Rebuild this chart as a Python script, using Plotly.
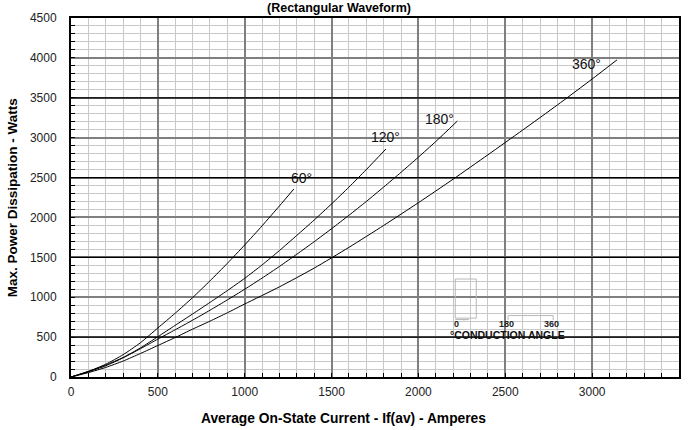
import plotly.graph_objects as go

# ---- data ----
i_60 = [0, 100, 200, 300, 400, 500, 600, 700, 800, 900, 1000, 1100, 1200, 1283]
p_60 = [0, 70, 160, 280, 430, 615, 800, 995, 1205, 1425, 1655, 1895, 2145, 2357]

i_120 = [0, 100, 200, 300, 400, 500, 600, 700, 800, 900, 1000, 1100, 1200, 1300, 1400, 1500, 1600, 1700, 1813]
p_120 = [0, 70, 150, 245, 365, 505, 648, 790, 935, 1083, 1237, 1405, 1585, 1775, 1968, 2170, 2380, 2600, 2858]

i_180 = [0, 100, 200, 300, 400, 500, 600, 700, 800, 900, 1000, 1100, 1200, 1300, 1400, 1500, 1600, 1700, 1800, 1900, 2000, 2100, 2224]
p_180 = [0, 65, 140, 240, 355, 475, 592, 712, 837, 966, 1100, 1240, 1386, 1539, 1696, 1859, 2027, 2200, 2381, 2566, 2756, 2952, 3208]

i_360 = [0, 100, 200, 300, 400, 500, 600, 700, 800, 900, 1000, 1200, 1400, 1600, 1800, 2000, 2200, 2400, 2600, 2800, 3000, 3143]
p_360 = [0, 55, 120, 200, 295, 395, 495, 600, 700, 805, 915, 1130, 1365, 1625, 1900, 2185, 2480, 2785, 3095, 3410, 3735, 3975]

curve_labels = ["60°", "120°", "180°", "360°"]
label_x = [1325, 1813, 2120, 2970]
label_y = [2500, 3010, 3235, 3925]

x_ticks = [0, 500, 1000, 1500, 2000, 2500, 3000, 3500]
y_ticks = [0, 500, 1000, 1500, 2000, 2500, 3000, 3500, 4000, 4500]
black_grid_y = [500, 1500, 2500, 3500]

FONT = "Liberation Sans, Arial, sans-serif"

fig = go.Figure()
for xs, ys in [(i_60, p_60), (i_120, p_120), (i_180, p_180), (i_360, p_360)]:
    fig.add_trace(go.Scatter(x=xs, y=ys, mode="lines",
                             line=dict(color="black", width=1, shape="spline", smoothing=0.6),
                             showlegend=False, hoverinfo="skip"))

for t, x, y in zip(curve_labels, label_x, label_y):
    fig.add_annotation(x=x, y=y, text=t, showarrow=False,
                       font=dict(family=FONT, size=14, color="#111"),
                       xanchor="center", yanchor="middle")

shapes = []
for yv in black_grid_y:
    shapes.append(dict(type="line", xref="x", yref="y", x0=0, x1=3500, y0=yv, y1=yv,
                       line=dict(color="black", width=1.2), layer="between"))

# conduction angle inset (light gray sketch)
g = "#b8b8b8"
shapes += [
    dict(type="rect", xref="x", yref="y", x0=2212, x1=2333, y0=738, y1=1228,
         line=dict(color=g, width=1), layer="above"),
    dict(type="line", xref="x", yref="y", x0=2212, x1=2290, y0=720, y1=720,
         line=dict(color=g, width=1), layer="above"),
    dict(type="line", xref="x", yref="y", x0=2262, x1=2262, y0=705, y1=720,
         line=dict(color=g, width=1), layer="above"),
    dict(type="line", xref="x", yref="y", x0=2516, x1=2776, y0=770, y1=770,
         line=dict(color=g, width=1), layer="above"),
    dict(type="line", xref="x", yref="y", x0=2516, x1=2516, y0=715, y1=770,
         line=dict(color=g, width=1), layer="above"),
    dict(type="line", xref="x", yref="y", x0=2776, x1=2776, y0=715, y1=770,
         line=dict(color=g, width=1), layer="above"),
]
fig.update_layout(shapes=shapes)

for t, x in zip(["0", "180", "360"], [2222, 2505, 2768]):
    fig.add_annotation(x=x, y=665, text=f"<b>{t}</b>", showarrow=False,
                       font=dict(family=FONT, size=9, color="#222"),
                       xanchor="center", yanchor="middle")
fig.add_annotation(x=2512, y=530, text="<b>°CONDUCTION ANGLE</b>", showarrow=False,
                   font=dict(family=FONT, size=10.5, color="#111"),
                   xanchor="center", yanchor="middle")

# titles
fig.add_annotation(xref="paper", yref="paper", x=0.44, y=1.028, text="<b>(Rectangular Waveform)</b>",
                   showarrow=False, font=dict(family=FONT, size=12.5, color="black"),
                   xanchor="center", yanchor="middle")
fig.add_annotation(xref="paper", yref="paper", x=0.4475, y=-0.115,
                   text="<b>Average On-State Current - If(av) - Amperes</b>",
                   showarrow=False, font=dict(family=FONT, size=13.8, color="black"),
                   xanchor="center", yanchor="middle")
fig.add_annotation(xref="paper", yref="paper", x=-0.0967, y=0.4986,
                   text="<b>Max. Power Dissipation - Watts</b>", textangle=-90,
                   showarrow=False, font=dict(family=FONT, size=13.5, color="black"),
                   xanchor="center", yanchor="middle")

fig.update_xaxes(range=[0, 3500], tickvals=x_ticks, ticktext=[str(v) for v in x_ticks],
                 showgrid=True, gridcolor="#7f7f7f", gridwidth=1.6,
                 minor=dict(dtick=100, showgrid=True, gridcolor="#c8c8c8", gridwidth=1,
                            ticks="inside", ticklen=4, tickcolor="black"),
                 ticks="inside", ticklen=4, tickcolor="black",
                 showline=True, linecolor="black", linewidth=2, mirror=True,
                 zeroline=False, tickfont=dict(family=FONT, size=12, color="#222"),
                 ticklabelstandoff=3, fixedrange=True)
fig.update_yaxes(range=[0, 4500], tickvals=y_ticks, ticktext=[str(v) for v in y_ticks],
                 showgrid=True, gridcolor="#7f7f7f", gridwidth=1.6,
                 minor=dict(dtick=100, showgrid=True, gridcolor="#c8c8c8", gridwidth=1,
                            ticks="inside", ticklen=4, tickcolor="black"),
                 ticks="inside", ticklen=4, tickcolor="black",
                 showline=True, linecolor="black", linewidth=2, mirror=True,
                 zeroline=False, tickfont=dict(family=FONT, size=12, color="#222"),
                 ticklabelstandoff=10, fixedrange=True)

fig.update_layout(width=692, height=430, paper_bgcolor="white", plot_bgcolor="white",
                  margin=dict(l=71, r=11, t=12, b=53), showlegend=False)

fig.write_html("out.html")
